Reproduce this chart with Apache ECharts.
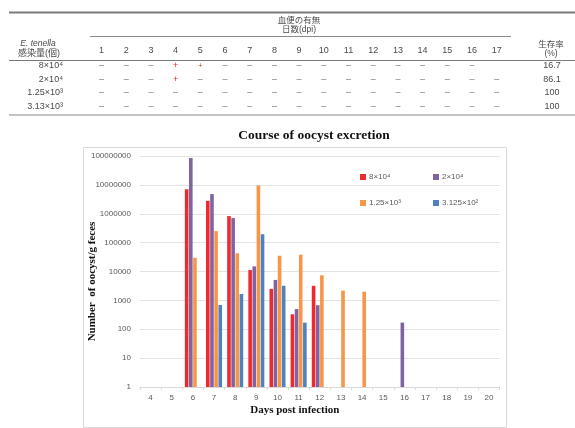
<!DOCTYPE html>
<html><head><meta charset="utf-8">
<script src="https://cdn.jsdelivr.net/npm/echarts@6/dist/echarts.min.js"></script>
<style>html,body{margin:0;padding:0;background:#fff}#c{width:575px;height:428px}</style>
</head><body><div id="c"></div>
<script>
// ---- chart data ----
const days = ['4','5','6','7','8','9','10','11','12','13','14','15','16','17','18','19','20'];
const names = ['8×10⁴','2×10⁴','1.25×10³','3.125×10²'];
const s8e4  = [null,null,7.0e6,2.8e6,8.3e5,1.12e4,2500,330,3200,null,null,null,null,null,null,null,null];
const s2e4  = [null,null,8.5e7,4.8e6,7.1e5,1.5e4,5100,500,680,null,null,null,170,null,null,null,null];
const s125  = [null,null,3.0e4,2.5e5,4.3e4,9.6e6,3.5e4,3.8e4,7400,2180,2000,null,null,null,null,null,null];
const s3125 = [null,null,null,690,1660,1.95e5,3200,170,null,null,null,null,null,null,null,null,null];
const colors = ['#ee2a2f','#8064a2','#f79646','#4f81bd'];

// ---- table data ----
const tblDays = ['1','2','3','4','5','6','7','8','9','10','11','12','13','14','15','16','17'];
const tblDoses = ['8×10⁴','2×10⁴','1.25×10³','3.13×10³'];
const tblRow1 = ['–','–','–','+','+','–','–','–','–','–','–','–','–','–','–','–',''];
const tblRow2 = ['–','–','–','+','–','–','–','–','–','–','–','–','–','–','–','–','–'];
const tblRow3 = ['–','–','–','–','–','–','–','–','–','–','–','–','–','–','–','–','–'];
const tblRow4 = ['–','–','–','–','–','–','–','–','–','–','–','–','–','–','–','–','–'];
const tblSurvival = ['16.7','86.1','100','100'];

const FF = "'Liberation Sans','Noto Sans CJK JP',sans-serif";
const txtCol = '#4a4a4a';
const g = [];
function T(x,y,text,opt){ g.push({type:'text',x:x,y:y,style:Object.assign({text:text,fill:txtCol,font:'9px '+FF,align:'center',verticalAlign:'middle'},opt||{})}); }
function L(x1,y1,x2,y2,w,c){ g.push({type:'line',shape:{x1:x1,y1:y1,x2:x2,y2:y2},style:{stroke:c||'#8a8a8a',lineWidth:w||1}}); }

L(9,12.5,575,12.5,2,'#7a7a7a');
T(299,20.5,'血便の有無',{font:'8.5px '+FF});
T(299,29.5,'日数(dpi)',{font:'8.5px '+FF});
L(90,36.5,511,36.5,1,'#8a8a8a');
T(38,44,'E. tenella',{font:'italic 8.5px '+FF});
T(39,53.5,'感染量(個)',{font:'9px '+FF});
const colX = i => 101.5 + i*24.7;
tblDays.forEach((d,i)=>T(colX(i),51,d));
T(551,44.5,'生存率',{font:'8.5px '+FF});
T(551,54,'(%)',{font:'8.5px '+FF});
L(9,60.5,575,60.5,1,'#7a7a7a');
const rowY = [66,79.5,93,106.5];
const rows = [tblRow1,tblRow2,tblRow3,tblRow4];
rows.forEach((r,ri)=>{
  T(63,rowY[ri],tblDoses[ri],{align:'right'});
  r.forEach((s,i)=>{ if(s) T(colX(i),rowY[ri],s,{fill:s==='+'?'#e8262b':'#777', font:(s==='+'&&ri===0&&i===4?'7px ':'9px ')+FF}); });
  T(552,rowY[ri],tblSurvival[ri]);
});
L(9,115,575,115,1.2,'#8a8a8a');
// chart frame
g.push({type:'rect',shape:{x:83.5,y:147.5,width:423,height:280},style:{fill:'none',stroke:'#d9d9d9',lineWidth:1},z:-1});

const seriesData = [s8e4,s2e4,s125,s3125];
const legendPos = [[360,173],[433,173],[360,199],[433,199]];
const chart = echarts.init(document.getElementById('c'));
chart.setOption({
  animation:false,
  title:{text:'Course of oocyst excretion',left:309,top:124,textAlign:'center',
    textStyle:{fontFamily:"'Liberation Serif',serif",fontWeight:'bold',fontSize:13.5,color:'#111'}},
  graphic:g,
  legend: names.map((n,i)=>({data:[n],left:legendPos[i][0],top:legendPos[i][1],itemWidth:6,itemHeight:6,itemGap:4,
    icon:'rect',textStyle:{fontSize:8,color:'#595959',fontFamily:FF,padding:[0,0,0,-2]},padding:0})),
  grid:{left:140,right:75.4,top:156,bottom:41},
  xAxis:{type:'category',data:days,name:'Days post infection',nameLocation:'middle',nameGap:18,
    nameMoveOverlap:false,
    nameTextStyle:{fontFamily:"'Liberation Serif',serif",fontWeight:'bold',fontSize:11,color:'#111',padding:[0,50,0,0]},
    axisLine:{lineStyle:{color:'#d9d9d9'}},axisTick:{show:true,length:3,lineStyle:{color:'#d9d9d9'}},
    axisLabel:{color:'#595959',fontSize:8,fontFamily:FF,margin:7}},
  yAxis:{type:'log',logBase:10,min:1,max:1e8,splitNumber:8,
    name:'Number  of oocyst/g feces',nameLocation:'middle',nameGap:42,nameMoveOverlap:false,
    nameTextStyle:{fontFamily:"'Liberation Serif',serif",fontWeight:'bold',fontSize:11,color:'#111',padding:[0,20,0,0]},
    axisLine:{show:false},axisTick:{show:false},
    splitLine:{lineStyle:{color:'#e3e3e3'}},
    axisLabel:{color:'#595959',fontSize:8,fontFamily:FF,margin:9,formatter:v=>String(Math.round(v))}},
  series: names.map((n,i)=>({name:n,type:'bar',data:seriesData[i],barWidth:3.6,barGap:'15%',
    itemStyle:{color:colors[i]}}))
});
</script></body></html>
